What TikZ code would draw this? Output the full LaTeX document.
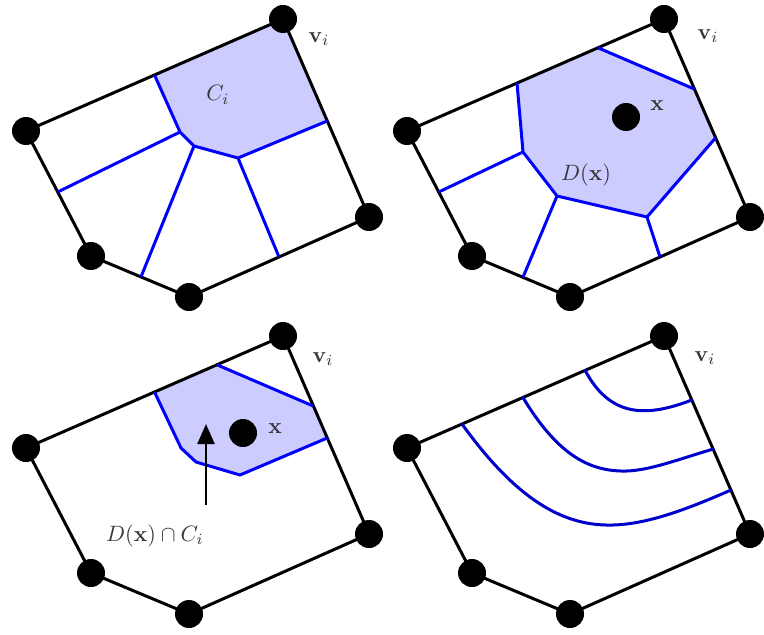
\documentclass[tikz,border=0pt]{standalone}
\usetikzlibrary{calc,arrows.meta}
\definecolor{cellfill}{RGB}{204,204,255}
\definecolor{lineblue}{RGB}{0,0,255}
\definecolor{curveblue}{RGB}{0,0,205}
\definecolor{labelgray}{RGB}{55,55,55}
\tikzset{
  vtx/.style={circle,fill=black,inner sep=0pt,minimum size=12.6pt},
  edgeline/.style={line width=1.35pt,black,line join=round},
  bluel/.style={line width=1.35pt,lineblue,line join=round},
  curvel/.style={line width=1.35pt,curveblue,line cap=round},
  arrowl/.style={line width=1.2pt,black,-{Triangle[length=9pt,width=7.6pt]}},
  lbl/.style={text=labelgray,inner sep=0pt},
}
\newcommand{\mypolygon}{%
  \coordinate (vi) at (283,19);
  \coordinate (L) at (26,131);
  \coordinate (BL) at (91,256);
  \coordinate (B) at (189,297);
  \coordinate (R) at (369,217);
}
\newcommand{\mypolyedges}{%
  \draw[edgeline] (vi) -- (L) -- (BL) -- (B) -- (R) -- cycle;
}
\newcommand{\mypolydots}{%
  \foreach \n in {vi,L,BL,B,R} \node[vtx] (d\n) at (\n) {};
}
\begin{document}
\begin{tikzpicture}[x=0.45pt,y=-0.45pt]
\useasboundingbox (0,0) rectangle (764,634);

% ---------------- Panel 1 ----------------
\begin{scope}[name prefix=pa-]
  \mypolygon
  \coordinate (ct) at ($(vi)!0.5!(L)$);
  \coordinate (cr) at ($(vi)!0.515!(R)$);
  \coordinate (cl) at ($(L)!0.488!(BL)$);
  \coordinate (cb1) at ($(BL)!0.51!(B)$);
  \coordinate (cb2) at ($(B)!0.5!(R)$);
  \coordinate (c1) at (180,132);
  \coordinate (c2) at (194,146);
  \coordinate (c3) at (238,158);
  \fill[cellfill] (ct) -- (c1) -- (c2) -- (c3) -- (cr) -- (vi) -- cycle;
  \mypolyedges
  \draw[bluel] (ct) -- (c1) -- (c2) -- (c3) -- (cr);
  \draw[bluel] (c1) -- (cl);
  \draw[bluel] (c2) -- (cb1);
  \draw[bluel] (c3) -- (cb2);
  \mypolydots
  \node[lbl] (ci) at (218,95) {$C_i$};
  \node[lbl] (vil) at (319,39) {$\mathbf{v}_i$};
\end{scope}

% ---------------- Panel 2 ----------------
\begin{scope}[shift={(381,0)},name prefix=pb-]
  \mypolygon
  \coordinate (dt1) at ($(vi)!0.572!(L)$);
  \coordinate (dt2) at ($(vi)!0.257!(L)$);
  \coordinate (dr1) at ($(vi)!0.354!(R)$);
  \coordinate (dr2) at ($(vi)!0.6!(R)$);
  \coordinate (cl) at ($(L)!0.488!(BL)$);
  \coordinate (cb1) at ($(BL)!0.52!(B)$);
  \coordinate (cb2) at ($(B)!0.5!(R)$);
  \coordinate (q1) at (142,152);
  \coordinate (q2) at (176,196);
  \coordinate (q3) at (266,217);
  \fill[cellfill] (dt1) -- (q1) -- (q2) -- (q3) -- (dr2) -- (dr1) -- (dt2) -- cycle;
  \mypolyedges
  \draw[bluel] (dt1) -- (q1) -- (q2) -- (q3) -- (dr2);
  \draw[bluel] (dt2) -- (dr1);
  \draw[bluel] (q1) -- (cl);
  \draw[bluel] (q2) -- (cb1);
  \draw[bluel] (q3) -- (cb2);
  \mypolydots
  \node[vtx] (x) at (245,117) {};
  \node[lbl] (xl) at (276,106) {$\mathbf{x}$};
  \node[lbl] (dl) at (205,175) {$D(\mathbf{x})$};
  \node[lbl] (vil) at (327,36) {$\mathbf{v}_i$};
\end{scope}

% ---------------- Panel 3 ----------------
\begin{scope}[shift={(0,317)},name prefix=pc-]
  \mypolygon
  \coordinate (ct) at ($(vi)!0.5!(L)$);
  \coordinate (cr) at ($(vi)!0.515!(R)$);
  \coordinate (dt2) at ($(vi)!0.257!(L)$);
  \coordinate (dr1) at ($(vi)!0.354!(R)$);
  \coordinate (c1) at (181,131);
  \coordinate (c2) at (196,145);
  \coordinate (c3) at (240,158);
  \fill[cellfill] (ct) -- (c1) -- (c2) -- (c3) -- (cr) -- (dr1) -- (dt2) -- cycle;
  \mypolyedges
  \draw[bluel] (ct) -- (c1) -- (c2) -- (c3) -- (cr);
  \draw[bluel] (dt2) -- (dr1);
  \mypolydots
  \node[vtx] (x) at (243,116) {};
  \node[lbl] (xl) at (275,112) {$\mathbf{x}$};
  \node[lbl] (il) at (155,219) {$D(\mathbf{x})\cap C_i$};
  \coordinate (as) at (206,188);
  \coordinate (ae) at (206,107);
  \draw[arrowl] (as) -- (ae);
  \node[lbl] (vil) at (323,42) {$\mathbf{v}_i$};
\end{scope}

% ---------------- Panel 4 ----------------
\begin{scope}[shift={(381,317)},name prefix=pd-]
  \mypolygon
  \coordinate (e1) at ($(vi)!0.307!(L)$);
  \coordinate (e2) at ($(vi)!0.549!(L)$);
  \coordinate (e3) at ($(vi)!0.786!(L)$);
  \coordinate (r1) at ($(vi)!0.323!(R)$);
  \coordinate (r2) at ($(vi)!0.571!(R)$);
  \coordinate (r3) at ($(vi)!0.778!(R)$);
  \coordinate (m2) at (240,154);
  \coordinate (m3) at (225,208);
  \mypolyedges
  \draw[curvel] (e1) .. controls (228,98) and (262,102) .. (r1);
  \draw[curvel] (e2) .. controls (175,135) and (205,153) .. (m2)
                     .. controls (265,155) and (295,143) .. (r2);
  \draw[curvel] (e3) .. controls (130,175) and (175,207) .. (m3)
                     .. controls (260,209) and (300,195) .. (r3);
  \mypolydots
  \node[lbl] (vil) at (324,41) {$\mathbf{v}_i$};
\end{scope}
\end{tikzpicture}
\end{document}
